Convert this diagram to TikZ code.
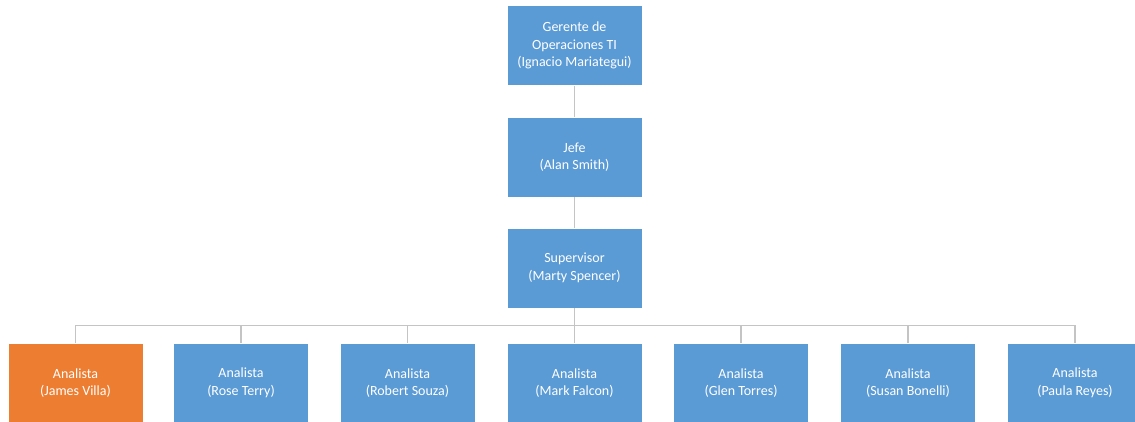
\documentclass[tikz,border=0pt]{standalone}
\usepackage{fontspec}
\setmainfont{Carlito}
\definecolor{boxblue}{RGB}{91,155,213}
\definecolor{boxorange}{RGB}{237,125,49}
\definecolor{linegray}{RGB}{196,196,196}
\begin{document}
\begin{tikzpicture}[
  x=1pt, y=1pt,
  every node/.style={font=\fontsize{14}{17.5}\selectfont, align=center, text=white},
  rolebox/.style={rectangle, draw=white, line width=0.4pt, fill=boxblue,
                  minimum width=135pt, minimum height=80pt, inner sep=2pt},
  link/.style={draw=linegray, line width=1.5pt}
]
  \useasboundingbox (0,0) rectangle (1135,-422);
  \clip (0,0) rectangle (1135,-422);

  % Top of the chart
  \node[rolebox] (gerente) at (574.5, -45.5)
    {Gerente de\\Operaciones TI\\(Ignacio Mariategui)};
  \node[rolebox] (jefe) at (574.5, -157)
    {Jefe\\(Alan Smith)};
  \node[rolebox] (supervisor) at (574.5, -268)
    {Supervisor\\(Marty Spencer)};

  % Analyst row
  \node[rolebox, fill=boxorange] (villa) at (75.5, -383)
    {Analista\\(James Villa)};
  \node[rolebox] (terry) at (241, -383)
    {Analista\\(Rose Terry)};
  \node[rolebox] (souza) at (407.5, -383)
    {Analista\\(Robert Souza)};
  \node[rolebox] (falcon) at (574.5, -383)
    {Analista\\(Mark Falcon)};
  \node[rolebox] (torres) at (741, -383)
    {Analista\\(Glen Torres)};
  \node[rolebox] (bonelli) at (908, -383)
    {Analista\\(Susan Bonelli)};
  \node[rolebox] (reyes) at (1075, -383)
    {Analista\\(Paula Reyes)};

  % Connectors
  \coordinate (bus) at (574.5, -325.5);
  \draw[link] (gerente) -- (jefe);
  \draw[link] (jefe) -- (supervisor);
  \draw[link] (supervisor) -- (bus) -| (villa);
  \draw[link] (bus) -| (terry);
  \draw[link] (bus) -| (souza);
  \draw[link] (bus) -- (falcon);
  \draw[link] (bus) -| (torres);
  \draw[link] (bus) -| (bonelli);
  \draw[link] (bus) -| (reyes);
\end{tikzpicture}
\end{document}
